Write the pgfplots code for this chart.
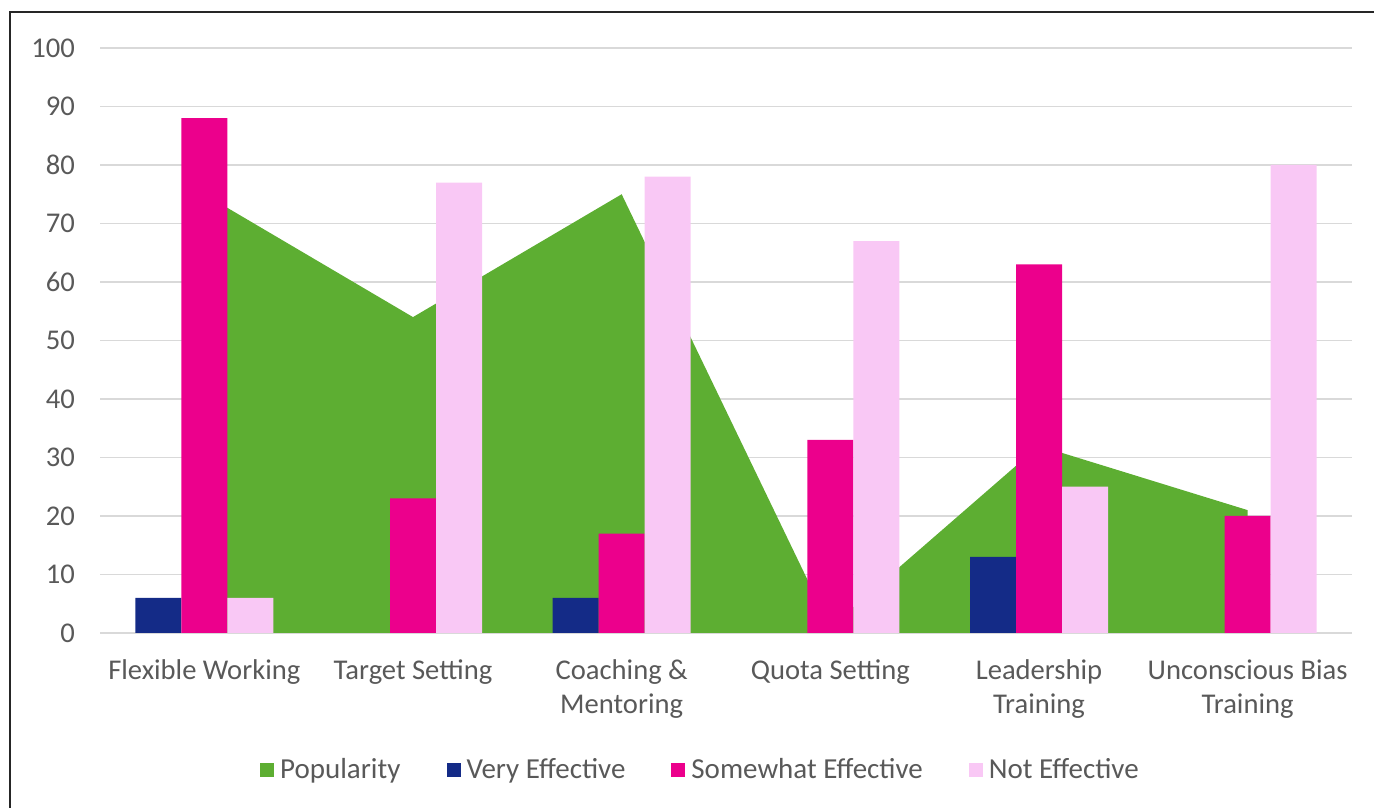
\documentclass[border=0pt]{standalone}
\usepackage{pgfplots}
\pgfplotsset{compat=1.18}
\usepackage{fontspec}
\setmainfont{Carlito}
\definecolor{popgreen}{HTML}{5DAE32}
\definecolor{navy}{HTML}{142B87}
\definecolor{magentab}{HTML}{EC008C}
\definecolor{lpink}{HTML}{F9C8F5}
\definecolor{txtgray}{HTML}{595959}
\definecolor{gridgray}{HTML}{D9D9D9}
\pgfplotsset{mylegend/.style={legend image code/.code={\fill[##1] (0bp,-3.5bp) rectangle (7bp,3.5bp);}}}
\begin{document}
\begin{tikzpicture}
\useasboundingbox (0,0) rectangle (687bp,404bp);
\draw[line width=0.9bp, black!85] (5bp,0) -- (5bp,398bp) -- (687bp,398bp);
\begin{axis}[
  at={(50bp,87.5bp)}, anchor=south west,
  scale only axis, width=626bp, height=292.5bp,
  xmin=-0.5, xmax=5.5, ymin=0, ymax=100,
  ytick={0,10,...,100},
  xtick={0,...,5},
  xticklabels={Flexible Working, Target Setting, {Coaching \&\\Mentoring}, Quota Setting, {Leadership\\Training}, {Unconscious Bias\\Training}},
  axis line style={draw=none},
  ymajorgrids, grid style={gridgray, line width=0.75bp},
  major tick length=0pt,
  tick label style={font=\fontsize{14.3bp}{17bp}\selectfont, text=txtgray},
  /pgf/number format/assume math mode=true,
  xticklabel style={align=center, yshift=-10bp},
  yticklabel style={xshift=-9bp},
  legend style={at={(0.48,-0.234)}, anchor=center, draw=none, fill=none,
    legend columns=-1, font=\fontsize{14.5bp}{17bp}\selectfont, text=txtgray,
    /tikz/every even column/.append style={column sep=21.5bp},
    /tikz/every odd column/.append style={column sep=1.5bp},
    nodes={inner sep=1.5bp}},
  legend cell align=left,
]
\addplot[fill=popgreen, draw=none, mylegend] coordinates {(0,75) (1,54) (2,75) (3,1) (4,32) (5,21)} \closedcycle;
\addplot[ybar, bar width=23bp, bar shift=-23bp, fill=navy, draw=none, mylegend] coordinates {(0,6) (1,0) (2,6) (3,0) (4,13) (5,0)};
\addplot[ybar, bar width=23bp, bar shift=0bp, fill=magentab, draw=none, mylegend] coordinates {(0,88) (1,23) (2,17) (3,33) (4,63) (5,20)};
\addplot[ybar, bar width=23bp, bar shift=23bp, fill=lpink, draw=none, mylegend] coordinates {(0,6) (1,77) (2,78) (3,67) (4,25) (5,80)};
\legend{Popularity, Very Effective, Somewhat Effective, Not Effective}
\end{axis}
\end{tikzpicture}
\end{document}
